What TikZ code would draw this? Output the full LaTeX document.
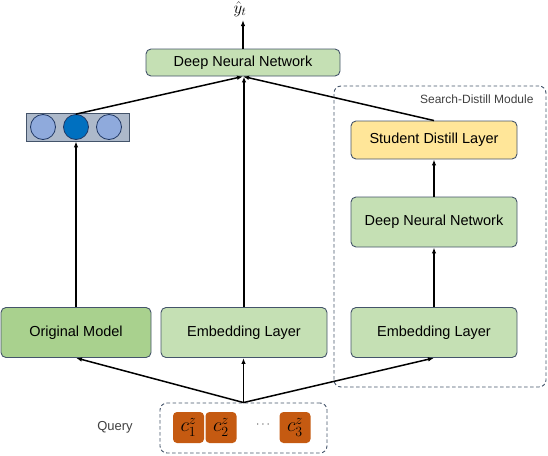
\RequirePackage{fix-cm}
\documentclass[tikz,border=0pt]{standalone}
\usepackage{fontspec}
\setmainfont{Liberation Sans}
\usetikzlibrary{arrows.meta}
\definecolor{bord}{HTML}{44546A}
\definecolor{lgreen}{HTML}{C5E0B4}
\definecolor{dgreen}{HTML}{A9D18E}
\definecolor{lyellow}{HTML}{FFE699}
\definecolor{arrbg}{HTML}{ADB9CA}
\definecolor{cirl}{HTML}{8FAADC}
\definecolor{cird}{HTML}{0070C0}
\definecolor{cirb}{HTML}{203864}
\definecolor{chip}{HTML}{C55A11}
\definecolor{lbl}{HTML}{404040}
\newcommand{\chiplabel}[1]{$c^{\hbox{\fontsize{14}{14}\selectfont$z$}}_{\hbox{\fontsize{14}{14}\selectfont$#1$}}$}
\begin{document}
\begin{tikzpicture}[x=1pt,y=-1pt,
  font=\fontsize{14.5}{16}\selectfont,
  box/.style={draw=bord, line width=0.9pt, rounded corners=5pt, inner sep=0pt, align=center},
  dbox/.style={draw=bord, line width=0.9pt, dashed, dash pattern=on 3.5pt off 2.5pt, rounded corners=7pt, inner sep=0pt},
  arr/.style={-{Latex[length=6pt,width=4.5pt]}, line width=1.5pt},
  cir/.style={circle, draw=cirb, line width=0.8pt, minimum size=25pt, inner sep=0pt},
  chipbox/.style={fill=chip, rounded corners=4pt, minimum width=31pt, minimum height=31pt, inner sep=0pt, font=\fontsize{20}{22}\selectfont}]
\useasboundingbox (0,0) rectangle (548,455);

% search-distill module frame
\node[dbox, minimum width=212pt, minimum height=301pt] (module) at (440,236.5) {};
\node[anchor=east, text=lbl, font=\fontsize{12}{14}\selectfont] (modlbl) at (537,99) {Search-Distill Module};

% top
\node[box, fill=lgreen, minimum width=194pt, minimum height=27pt] (dnn) at (243,62.5) {Deep Neural Network};
\node[font=\fontsize{17}{18}\selectfont] (yhat) at (240,9) {$\hat{y}_t$};

% vector of circles
\node[draw=bord, fill=arrbg, line width=0.8pt, minimum width=103pt, minimum height=28pt, inner sep=0pt] (vec) at (77.5,127) {};
\node[cir, fill=cirl] (c1) at (43,127) {};
\node[cir, fill=cird] (c2) at (76,127) {};
\node[cir, fill=cirl] (c3) at (109,127) {};

% right column
\node[box, fill=lyellow, minimum width=166pt, minimum height=38pt] (sdl) at (434,140) {Student Distill Layer};
\node[box, fill=lgreen, minimum width=166pt, minimum height=50pt] (rdnn) at (434,222) {Deep Neural Network};

% bottom row
\node[box, fill=dgreen, minimum width=150pt, minimum height=50pt] (orig) at (76,332.5) {Original Model};
\node[box, fill=lgreen, minimum width=166pt, minimum height=50pt] (emb) at (244,332.5) {Embedding Layer};
\node[box, fill=lgreen, minimum width=166pt, minimum height=50pt] (emb2) at (434,332.5) {Embedding Layer};

% query
\node[dbox, minimum width=167pt, minimum height=50pt] (query) at (243.5,428) {};
\node[chipbox] (q1) at (188.5,427.5) {\chiplabel{1}};
\node[chipbox] (q2) at (221,427.5) {\chiplabel{2}};
\node[chipbox] (q3) at (295,427.5) {\chiplabel{3}};
\node[text=lbl] (dots) at (263,425) {\fontsize{12}{14}\selectfont$\cdots$};
\node[text=lbl, font=\fontsize{13}{14}\selectfont] (qlbl) at (115,427) {Query};

% arrows
\draw[arr] (dnn.north) -- (dnn.north |- yhat.south);
\draw[arr] (c2.north) -- (dnn.south);
\draw[arr] (emb.north) -- (emb.north |- dnn.south);
\draw[arr] (sdl.north) -- (dnn.south);
\draw[arr] (orig.north) -- (orig.north |- vec.south);
\draw[arr] (rdnn.north) -- (sdl.south);
\draw[arr] (emb2.north) -- (rdnn.south);
\draw[arr] (query.north) -- (orig.south);
\draw[arr] (query.north) -- (query.north |- emb.south);
\draw[arr] (query.north) -- (emb2.south);
\end{tikzpicture}
\end{document}
